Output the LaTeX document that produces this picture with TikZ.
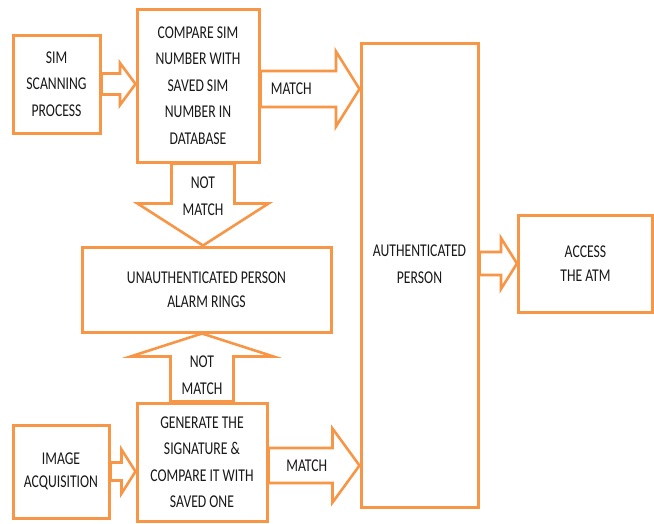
\documentclass[tikz,border=0pt]{standalone}
\usepackage{fontspec}
\setmainfont{Carlito}[FakeStretch=0.76]
\usetikzlibrary{calc}
\definecolor{boxorange}{RGB}{247,150,70}
\definecolor{txtgray}{RGB}{25,25,25}

\begin{document}
\begin{tikzpicture}[x=1pt,y=-1pt,
    box/.style={draw=boxorange,line width=3pt,fill=white,align=center,inner sep=0pt,font=\fontsize{18}{26.5}\selectfont,text=txtgray},
    lbl/.style={align=center,inner sep=0pt,font=\fontsize{18}{26.5}\selectfont,text=txtgray},
    tight/.style={font=\fontsize{18}{23.5}\selectfont},
    fat/.style n args={3}{draw=boxorange,line width=2.6pt,fill=white,line join=miter,to path={
      ($(\tikztostart)!#1pt!90:(\tikztotarget)$) --
      ($(\tikztotarget)!#3pt!(\tikztostart)!#1pt!90:(\tikztotarget)$) --
      ($(\tikztotarget)!#3pt!(\tikztostart)!#2pt!90:(\tikztotarget)$) --
      (\tikztotarget) --
      ($(\tikztotarget)!#3pt!(\tikztostart)!#2pt!-90:(\tikztotarget)$) --
      ($(\tikztotarget)!#3pt!(\tikztostart)!#1pt!-90:(\tikztotarget)$) --
      ($(\tikztostart)!#1pt!-90:(\tikztotarget)$) -- cycle}}
  ]
    \fill[white] (0,0) rectangle (654,523);
    \useasboundingbox (0,0) rectangle (654,523);

    % SIM branch
    \node[box,minimum width=87pt,minimum height=98pt] (sim) at (56.5,84) {SIM\\SCANNING\\PROCESS};
    \node[box,minimum width=122pt,minimum height=153pt] (cmp) at (198,85.5) {COMPARE SIM\\NUMBER WITH\\SAVED SIM\\NUMBER IN\\DATABASE};

    % alarm box
    \node[box,tight,minimum width=249pt,minimum height=85pt] (unauth) at (206.5,289.5) {UNAUTHENTICATED PERSON\\ALARM RINGS};

    % image branch
    \node[box,tight,minimum width=96pt,minimum height=93pt] (img) at (61,471.5) {IMAGE\\ACQUISITION};
    \node[box,minimum width=130pt,minimum height=118pt] (gen) at (202,462) {GENERATE THE\\SIGNATURE \&\\COMPARE IT WITH\\SAVED ONE};

    % right side
    \node[box,minimum width=117pt,minimum height=464pt] (auth) at (419.5,275) {};
    \node[lbl] (authlbl) at (419.5,264) {AUTHENTICATED\\PERSON};
    \node[box,tight,minimum width=134pt,minimum height=97pt] (access) at (585.5,263.5) {ACCESS\\THE ATM};

    % arrow start points
    \coordinate (m1) at ($(cmp.east)+(0,3.5)$);
    \coordinate (m2) at ($(gen.east)+(0,3.5)$);
    \coordinate (nm1) at ($(cmp.south)+(5,0)$);

    % block arrows
    \draw[fat={10.5}{21}{15.5}] (sim.east) to (sim.east -| cmp.west);
    \draw[fat={9}{22}{14}] (img.east) to (img.east -| gen.west);
    \draw[fat={18}{37.5}{23.5}] (m1) to (m1 -| auth.west);
    \draw[fat={17.5}{37}{27}] (m2) to (m2 -| auth.west);
    \draw[fat={31.5}{65.5}{42}] (nm1) to (nm1 |- unauth.north);
    \draw[fat={31.5}{71.5}{23}] (gen.north) to (gen.north |- unauth.south);
    \draw[fat={11.5}{25.5}{16}] (access.west -| auth.east) to (access.west);

    % arrow labels
    \path (m1) -- node[lbl,pos=.31] (m1lbl) {MATCH} (m1 -| auth.west);
    \path (m2) -- node[lbl,pos=.42] (m2lbl) {MATCH} (m2 -| auth.west);
    \path (nm1) -- node[lbl,pos=.4] (nm1lbl) {NOT\\MATCH} (nm1 |- unauth.north);
    \path (gen.north) -- node[lbl,pos=.39] (nm2lbl) {NOT\\MATCH} (gen.north |- unauth.south);
\end{tikzpicture}
\end{document}
